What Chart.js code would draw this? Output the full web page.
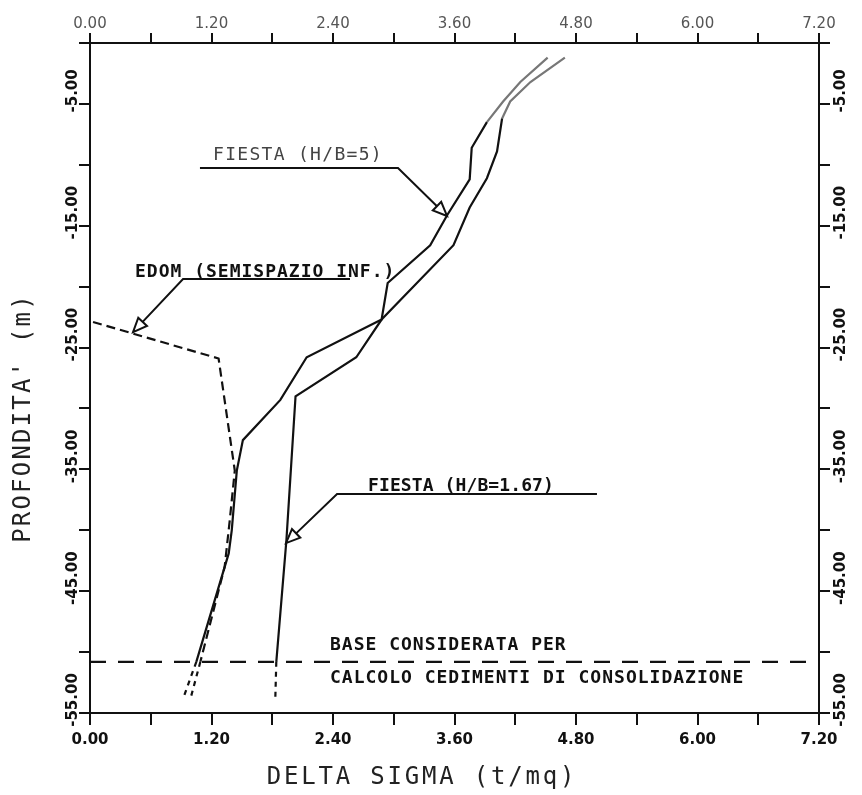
<!DOCTYPE html>
<html>
<head>
<meta charset="utf-8">
<script src="https://cdn.jsdelivr.net/npm/chart.js@4.4.1/dist/chart.umd.min.js"></script>
<style>
  html, body { margin: 0; padding: 0; background: #fff; }
  canvas { display: block; }
</style>
</head>
<body>
<canvas id="chart" width="862" height="795"></canvas>
<script>
// stress increment vs depth (x in t/mq, y in m)
const fiesta5X = [4.52, 4.25, 4.08, 3.92, 3.77, 3.75, 3.53, 3.36, 2.94, 2.88, 2.14, 1.88, 1.51, 1.45, 1.40, 1.37, 1.05, 0.92]
const fiesta5Y = [-1.2, -3.2, -4.8, -6.5, -8.6, -11.2, -14.1, -16.6, -19.7, -22.7, -25.8, -29.3, -32.6, -35.1, -40.0, -41.9, -50.8, -53.8]

const fiesta167X = [4.69, 4.35, 4.15, 4.07, 4.02, 3.92, 3.75, 3.59, 2.88, 2.63, 2.03, 1.94, 1.84, 1.83]
const fiesta167Y = [-1.2, -3.2, -4.8, -6.2, -8.9, -11.1, -13.5, -16.6, -22.7, -25.8, -29.0, -40.8, -50.8, -53.9]

const edomX = [0.03, 1.27, 1.43, 1.38, 1.33, 1.09, 0.99]
const edomY = [-22.9, -25.9, -35.1, -39.2, -43.0, -50.8, -53.9]

// depth of the base used for the consolidation settlements
const baseDepth = -50.8
const baseX = [0, 7.2]

// axes
const xMin = 0, xMax = 7.2, xStep = 0.6, xLabelStep = 1.2
const yMin = -55, yMax = 0, yStep = 5

// callouts, anchored in data units (text start, leader path ending at the arrow tip)
const callouts = [
    { text: 'FIESTA (H/B=5)', at: [1.215, -9.2], bold: false, color: '#444', spacing: 1.3,
      path: [[1.086, -10.26], [3.042, -10.26], [3.526, -14.2]] },
    { text: 'EDOM (SEMISPAZIO INF.)', at: [0.444, -18.8], bold: true, color: '#111', spacing: 1.0,
      path: [[2.568, -19.38], [0.919, -19.38], [0.425, -23.73]] },
    { text: 'FIESTA (H/B=1.67)', at: [2.746, -36.37], bold: true, color: '#111', spacing: 0.1,
      path: [[5.007, -37.03], [2.44, -37.03], [1.936, -41.05]] },
    { text: 'BASE CONSIDERATA PER', at: [2.37, -49.43], bold: true, color: '#111', spacing: 1.0 },
    { text: 'CALCOLO CEDIMENTI DI CONSOLIDAZIONE', at: [2.37, -52.13], bold: true, color: '#111', spacing: 1.0 }
]

function toPoints(xs, ys) {
    return xs.map((x, i) => ({ x: x, y: ys[i] }))
}

// segments under the base line are drawn as short dashes
function belowBase(ctx) {
    return ctx.p0.parsed.y <= baseDepth + 0.01
}
// the top of the two FIESTA curves is faint on the original
function faintTop(ctx) {
    return ctx.p1.parsed.y > -6.6 ? '#777' : undefined
}

function xLabel(v) {
    return Math.round(v / xStep) % Math.round(xLabelStep / xStep) === 0 ? v.toFixed(2) : ''
}
function yLabel(v) {
    return Math.abs(Math.round(v / yStep)) % 2 === 1 ? v.toFixed(2) : ''
}

const ink = '#111'
const tickFont = { family: 'DejaVu Sans', size: 15, weight: 'bold' }

function xAxis(position, height, color, weight, padding, tickLength) {
    return {
        type: 'linear', position: position, min: xMin, max: xMax,
        border: { color: ink, width: 2 },
        grid: { drawOnChartArea: false, color: ink, lineWidth: 2, tickLength: tickLength },
        ticks: { stepSize: xStep, callback: xLabel, autoSkip: false, maxRotation: 0,
                 color: color, padding: padding, font: { family: 'DejaVu Sans', size: 15, weight: weight } },
        afterFit: s => { s.height = height }
    }
}
function yAxis(position, width, padding) {
    return {
        type: 'linear', position: position, min: yMin, max: yMax,
        border: { color: ink, width: 2 },
        grid: { drawOnChartArea: false, color: ink, lineWidth: 2, tickLength: 11 },
        ticks: { stepSize: yStep, callback: yLabel, autoSkip: false, minRotation: 90, maxRotation: 90,
                 crossAlign: 'center', labelOffset: -13, padding: padding, color: ink, font: tickFont },
        afterFit: s => { s.width = width }
    }
}

function arrowHead(ctx, from, tip) {
    const len = 14, half = 6
    const dx = tip[0] - from[0], dy = tip[1] - from[1]
    const d = Math.hypot(dx, dy)
    const ux = dx / d, uy = dy / d
    const bx = tip[0] - ux * len, by = tip[1] - uy * len
    ctx.beginPath()
    ctx.moveTo(tip[0], tip[1])
    ctx.lineTo(bx - uy * half, by + ux * half)
    ctx.lineTo(bx + uy * half, by - ux * half)
    ctx.closePath()
    ctx.stroke()
    return [bx, by]
}

const overlay = {
    id: 'overlay',
    afterDatasetsDraw(chart) {
        const ctx = chart.ctx
        const sx = chart.scales.x, sy = chart.scales.y
        const px = p => [sx.getPixelForValue(p[0]), sy.getPixelForValue(p[1])]
        ctx.save()
        ctx.lineWidth = 2
        ctx.strokeStyle = ink
        ctx.textBaseline = 'middle'
        ctx.textAlign = 'left'
        callouts.forEach(c => {
            const at = px(c.at)
            ctx.font = (c.bold ? 'bold ' : '') + '18px "DejaVu Sans Mono"'
            ctx.letterSpacing = c.spacing + 'px'
            ctx.fillStyle = c.color
            ctx.fillText(c.text, at[0], at[1])
            if (c.path) {
                const pts = c.path.map(px)
                const tip = pts[pts.length - 1]
                const base = arrowHead(ctx, pts[pts.length - 2], tip)
                ctx.beginPath()
                ctx.moveTo(pts[0][0], pts[0][1])
                for (let i = 1; i < pts.length - 1; i++) ctx.lineTo(pts[i][0], pts[i][1])
                ctx.lineTo(base[0], base[1])
                ctx.stroke()
            }
        })
        // axis titles
        const area = chart.chartArea
        ctx.font = '24px "DejaVu Sans Mono"'
        ctx.fillStyle = '#222'
        ctx.textAlign = 'center'
        ctx.letterSpacing = '2.8px'
        ctx.fillText('DELTA SIGMA (t/mq)', area.left + 332, area.bottom + 65)
        ctx.letterSpacing = '2.2px'
        ctx.translate(24, area.top + 375)
        ctx.rotate(-Math.PI / 2)
        ctx.fillText("PROFONDITA' (m)", 0, 0)
        ctx.restore()
    }
}

const lineStyle = {
    showLine: true, pointRadius: 0, borderColor: ink, borderWidth: 2.2, fill: false,
    xAxisID: 'x', yAxisID: 'y'
}

new Chart(document.getElementById('chart'), {
    type: 'scatter',
    data: {
        datasets: [
            Object.assign({}, lineStyle, {
                label: 'FIESTA (H/B=5)', data: toPoints(fiesta5X, fiesta5Y),
                segment: { borderDash: ctx => belowBase(ctx) ? [5, 5] : undefined, borderColor: faintTop }
            }),
            Object.assign({}, lineStyle, {
                label: 'FIESTA (H/B=1.67)', data: toPoints(fiesta167X, fiesta167Y),
                segment: { borderDash: ctx => belowBase(ctx) ? [5, 5] : undefined, borderColor: faintTop }
            }),
            Object.assign({}, lineStyle, {
                label: 'EDOM (SEMISPAZIO INF.)', data: toPoints(edomX, edomY), borderDash: [9, 5],
                segment: { borderDash: ctx => belowBase(ctx) ? [5, 5] : undefined }
            }),
            Object.assign({}, lineStyle, {
                label: 'BASE', data: toPoints(baseX, baseX.map(() => baseDepth)), borderDash: [16, 12]
            })
        ]
    },
    options: {
        responsive: false,
        animation: false,
        devicePixelRatio: 1,
        layout: { padding: 0 },
        plugins: { legend: { display: false }, tooltip: { enabled: false } },
        scales: {
            x: xAxis('bottom', 82, ink, 'bold', 6, 12),
            x2: xAxis('top', 43, '#555', 'normal', 0, 10),
            y: yAxis('left', 90, -21),
            y2: yAxis('right', 43, -16)
        }
    },
    plugins: [overlay]
})
</script>
</body>
</html>
